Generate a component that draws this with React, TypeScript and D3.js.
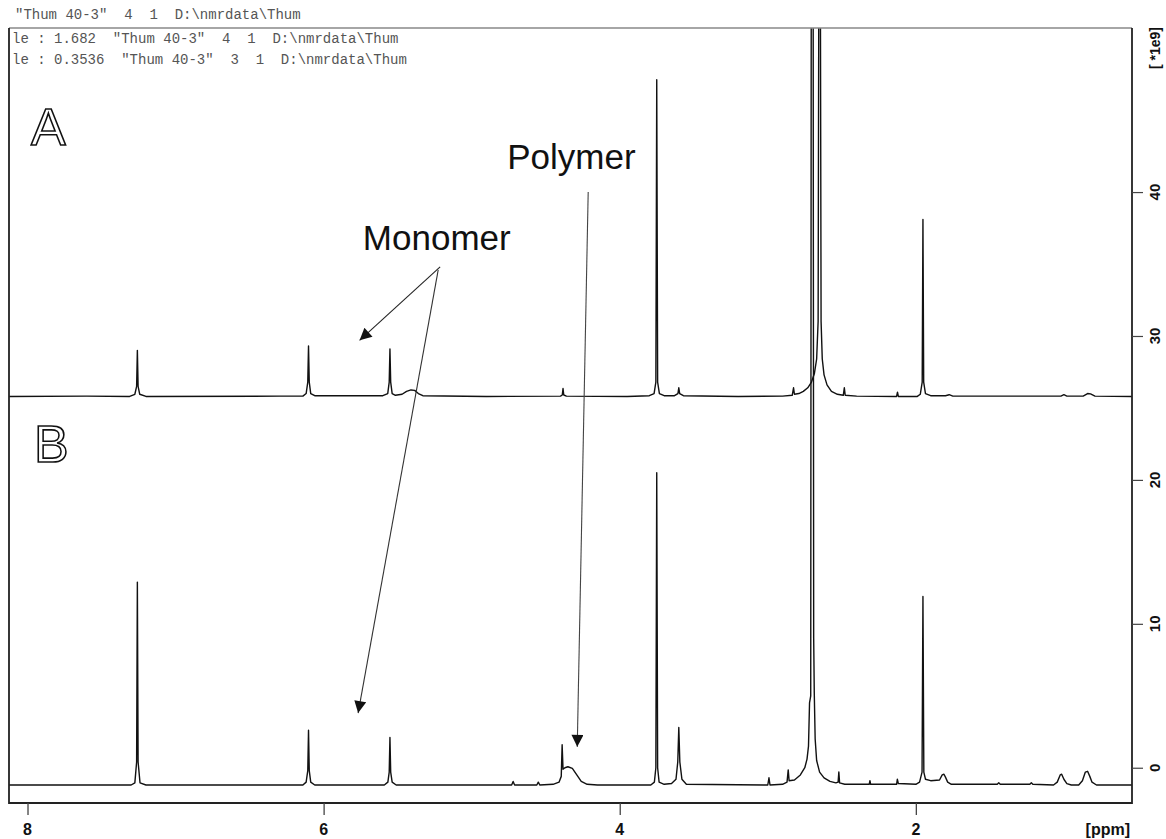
import React, { useRef, useEffect } from "react";
import * as d3 from "d3";

const W = 1166;
const H = 839;

// spectrum A (upper trace), [ppm, intensity in 1e9]
const specA: [number, number][] = [
  [8.13, 25.8], [7.6, 25.82], [7.31, 25.8], [7.275, 25.95], [7.263, 26.5],
  [7.258, 29.0], [7.253, 26.5], [7.242, 25.95], [7.2, 25.8], [6.3, 25.82],
  [6.14, 25.82], [6.118, 26.0], [6.107, 26.8], [6.102, 29.3], [6.097, 26.8],
  [6.087, 26.0], [6.06, 25.85], [5.6, 25.85], [5.567, 26.0], [5.557, 26.8],
  [5.552, 29.1], [5.547, 26.8], [5.537, 26.0], [5.515, 25.88], [5.47, 25.95],
  [5.44, 26.15], [5.41, 26.25], [5.385, 26.22], [5.36, 26.0], [5.33, 25.85],
  [4.9, 25.8], [4.4, 25.82], [4.388, 25.9], [4.383, 26.35], [4.378, 25.9],
  [4.36, 25.82], [3.95, 25.8], [3.8, 25.85], [3.768, 26.0], [3.756, 26.8],
  [3.75, 47.8], [3.744, 26.8], [3.732, 26.0], [3.7, 25.85], [3.63, 25.85],
  [3.607, 26.0], [3.601, 26.4], [3.595, 26.0], [3.57, 25.85], [3.2, 25.8],
  [2.9, 25.82], [2.835, 25.88], [2.826, 26.4], [2.82, 25.95], [2.79, 26.0],
  [2.76, 26.15], [2.73, 26.4], [2.705, 26.8], [2.685, 27.4], [2.67, 28.4],
  [2.66, 31.0], [2.655, 56], [2.645, 56], [2.64, 31.0], [2.632, 28.4],
  [2.62, 27.3], [2.6, 26.6], [2.57, 26.15], [2.53, 25.95], [2.49, 25.88],
  [2.483, 26.4], [2.477, 25.88], [2.4, 25.82], [2.13, 25.8], [2.124, 26.1],
  [2.118, 25.8], [1.99, 25.8], [1.97, 25.95], [1.957, 26.8], [1.952, 38.1],
  [1.947, 26.8], [1.935, 26.0], [1.9, 25.85], [1.8, 25.85], [1.775, 25.92],
  [1.75, 25.82], [1.02, 25.82], [1.0, 25.92], [0.98, 25.82], [0.87, 25.82],
  [0.84, 26.0], [0.82, 25.98], [0.79, 25.82], [0.54, 25.8],
];

// spectrum B (lower trace)
const specB: [number, number][] = [
  [8.13, -1.2], [7.3, -1.2], [7.275, -1.05], [7.263, 0.4], [7.258, 12.9],
  [7.253, 0.4], [7.24, -1.05], [7.2, -1.2], [6.14, -1.2], [6.118, -1.0],
  [6.107, -0.2], [6.102, 2.6], [6.097, -0.2], [6.087, -1.0], [6.06, -1.2],
  [5.59, -1.2], [5.566, -1.0], [5.557, -0.3], [5.552, 2.1], [5.547, -0.3],
  [5.537, -1.0], [5.51, -1.2], [4.73, -1.2], [4.72, -0.95], [4.71, -1.2],
  [4.56, -1.2], [4.55, -1.0], [4.54, -1.2], [4.45, -1.15], [4.41, -1.0],
  [4.395, -0.6], [4.389, 1.6], [4.383, -0.1], [4.37, 0.0], [4.35, 0.07],
  [4.32, -0.05], [4.29, -0.5], [4.26, -0.95], [4.22, -1.15], [4.15, -1.2],
  [3.79, -1.2], [3.766, -1.0], [3.756, 0.0], [3.75, 20.5], [3.744, 0.0],
  [3.734, -1.0], [3.7, -1.15], [3.65, -1.1], [3.62, -0.8], [3.608, 0.4],
  [3.601, 2.8], [3.594, 0.4], [3.58, -0.8], [3.55, -1.15], [3.0, -1.2],
  [2.992, -0.7], [2.985, -1.2], [2.9, -1.15], [2.87, -1.0], [2.862, -0.15],
  [2.856, -0.9], [2.82, -0.85], [2.78, -0.5], [2.75, 0.0], [2.735, 0.6],
  [2.725, 1.5], [2.718, 4.5], [2.71, 5.0], [2.706, 60], [2.694, 60],
  [2.69, 9.0], [2.686, 5.2], [2.68, 2.0], [2.67, 0.5], [2.65, -0.3],
  [2.62, -0.7], [2.58, -0.95], [2.54, -1.05], [2.525, -1.0], [2.52, -0.3],
  [2.515, -1.05], [2.48, -1.15], [2.315, -1.15], [2.31, -0.9], [2.305, -1.15],
  [2.13, -1.15], [2.125, -0.8], [2.118, -1.1], [2.0, -1.15], [1.975, -1.0],
  [1.958, -0.3], [1.952, 11.9], [1.946, -0.3], [1.935, -0.8], [1.9, -0.9],
  [1.84, -0.85], [1.822, -0.5], [1.81, -0.45], [1.8, -0.65], [1.785, -1.0],
  [1.76, -1.15], [1.45, -1.15], [1.44, -1.05], [1.43, -1.15], [1.23, -1.15],
  [1.22, -1.05], [1.21, -1.15], [1.07, -1.2], [1.045, -1.0], [1.025, -0.5],
  [1.015, -0.45], [1.0, -0.8], [0.98, -1.1], [0.95, -1.2], [0.9, -1.2],
  [0.875, -0.9], [0.855, -0.3], [0.84, -0.25], [0.825, -0.6], [0.81, -1.0],
  [0.78, -1.2], [0.54, -1.2],
];

const xMajor = [8, 6, 4, 2];
const xMinor = [7.5, 7, 6.5, 5.5, 5, 4.5, 3.5, 3, 2.5, 1.5, 1];
const yMajor = [0, 10, 20, 30, 40];
const yMinor = [-2, 2, 4, 6, 8, 12, 14, 16, 18, 22, 24, 26, 28, 32, 34, 36, 38, 42, 44, 46, 48, 50];

const titleLine = '"Thum 40-3"  4  1  D:\\nmrdata\\Thum';
const scaleLines = [
  'le : 1.682  "Thum 40-3"  4  1  D:\\nmrdata\\Thum',
  'le : 0.3536  "Thum 40-3"  3  1  D:\\nmrdata\\Thum',
];

// annotation arrows in data coords
const arrows = [
  { from: [5.213, 34.8], to: [5.757, 29.7], color: "#222" },
  { from: [5.226, 34.6], to: [5.767, 3.8], color: "#333" },
  { from: [4.213, 40.0], to: [4.287, 1.45], color: "#444" },
];
const notes = [
  { text: "Monomer", ppm: 5.735, val: 36.0 },
  { text: "Polymer", ppm: 4.76, val: 41.6 },
];

const App = () => {
  const ref = useRef<SVGSVGElement>(null);

  useEffect(() => {
    const svg = d3.select(ref.current);
    svg.selectAll("*").remove();

    const frame = { left: 9, right: 1132, top: 28, bottom: 803 };
    const x = d3.scaleLinear().domain([8.125, 0.54]).range([frame.left, frame.right]);
    const y = d3.scaleLinear().domain([-2.45, 51.4]).range([frame.bottom, frame.top]);

    svg.append("rect").attr("width", W).attr("height", H).attr("fill", "#fff");

    const defs = svg.append("defs");
    defs
      .append("clipPath")
      .attr("id", "plot-clip")
      .append("rect")
      .attr("x", frame.left)
      .attr("y", frame.top)
      .attr("width", frame.right - frame.left)
      .attr("height", frame.bottom - frame.top);
    defs
      .append("marker")
      .attr("id", "head")
      .attr("viewBox", "0 0 10 10")
      .attr("refX", 10)
      .attr("refY", 5)
      .attr("markerUnits", "userSpaceOnUse")
      .attr("markerWidth", 13)
      .attr("markerHeight", 12)
      .attr("orient", "auto")
      .append("path")
      .attr("d", "M0,0L10,5L0,10z")
      .attr("fill", "#111");

    // header text
    const mono = "'Liberation Mono', 'Courier New', monospace";
    svg
      .append("text")
      .attr("x", 15)
      .attr("y", 19)
      .style("white-space", "pre")
      .attr("font-family", mono)
      .attr("font-size", 14)
      .attr("fill", "#555")
      .text(titleLine);
    svg
      .append("g")
      .selectAll("text")
      .data(scaleLines)
      .enter()
      .append("text")
      .attr("x", 12)
      .attr("y", (d, i) => 43 + i * 21)
      .style("white-space", "pre")
      .attr("font-family", mono)
      .attr("font-size", 14)
      .attr("fill", "#555")
      .text((d) => d);

    // spectra
    const line = d3
      .line<[number, number]>()
      .x((d) => x(d[0]))
      .y((d) => y(d[1]));
    const plot = svg.append("g").attr("clip-path", "url(#plot-clip)");
    [specA, specB].forEach((s) => {
      plot
        .append("path")
        .datum(s)
        .attr("d", line)
        .attr("fill", "none")
        .attr("stroke", "#111")
        .attr("stroke-width", 1.4)
        .attr("stroke-linejoin", "round");
    });

    // frame
    const fr = svg.append("g");
    fr.append("line")
      .attr("x1", frame.left).attr("x2", frame.right)
      .attr("y1", frame.top).attr("y2", frame.top)
      .attr("stroke", "#888").attr("stroke-width", 1.5);
    fr.append("path")
      .attr(
        "d",
        `M${frame.left},${frame.top}V${frame.bottom}H${frame.right}V${frame.top}`
      )
      .attr("fill", "none")
      .attr("stroke", "#222")
      .attr("stroke-width", 1.8);

    // x axis
    const xg = svg.append("g").attr("transform", `translate(0,${frame.bottom})`);
    xg.call(d3.axisBottom(x).tickValues(xMinor).tickSize(8).tickFormat(() => ""));
    xg.call(d3.axisBottom(x).tickValues(xMajor).tickSize(12).tickFormat(() => ""));
    xg.selectAll(".domain").remove();
    xg.selectAll("line").attr("stroke", "#444").attr("stroke-width", 1.3);
    svg
      .append("g")
      .selectAll("text")
      .data(xMajor)
      .enter()
      .append("text")
      .attr("x", (d) => x(d))
      .attr("y", 835)
      .attr("text-anchor", "middle")
      .attr("font-family", "'Liberation Sans', Arial, sans-serif")
      .attr("font-weight", "bold")
      .attr("font-size", 16)
      .attr("fill", "#111")
      .text((d) => d);
    svg
      .append("text")
      .attr("x", 1130)
      .attr("y", 835)
      .attr("text-anchor", "end")
      .attr("font-family", "'Liberation Sans', Arial, sans-serif")
      .attr("font-weight", "bold")
      .attr("font-size", 16)
      .attr("fill", "#111")
      .text("[ppm]");

    // right y axis
    const yg = svg.append("g").attr("transform", `translate(${frame.right},0)`);
    yg.call(d3.axisRight(y).tickValues(yMinor).tickSize(7).tickFormat(() => ""));
    yg.call(d3.axisRight(y).tickValues(yMajor).tickSize(11).tickFormat(() => ""));
    yg.selectAll(".domain").remove();
    yg.selectAll("line").attr("stroke", "#444").attr("stroke-width", 1.2);
    svg
      .append("g")
      .selectAll("text")
      .data(yMajor)
      .enter()
      .append("text")
      .attr("transform", (d) => `translate(1160,${y(d)}) rotate(-90)`)
      .attr("text-anchor", "middle")
      .attr("font-family", "'Liberation Sans', Arial, sans-serif")
      .attr("font-weight", "bold")
      .attr("font-size", 15)
      .attr("fill", "#111")
      .text((d) => d);
    svg
      .append("text")
      .attr("transform", `translate(1160,48) rotate(-90)`)
      .attr("text-anchor", "middle")
      .style("white-space", "pre")
      .attr("font-family", "'Liberation Sans', Arial, sans-serif")
      .attr("font-weight", "bold")
      .attr("font-size", 14)
      .attr("fill", "#111")
      .text("[ *1e9]");

    // panel letters, outlined
    [
      ["A", 31, 145],
      ["B", 34, 462],
    ].forEach(([t, lx, ly]) => {
      svg
        .append("text")
        .attr("x", lx as number)
        .attr("y", ly as number)
        .attr("font-family", "'Liberation Sans', Arial, sans-serif")
        .attr("font-size", 52)
        .attr("fill", "#fff")
        .attr("stroke", "#111")
        .attr("stroke-width", 1.6)
        .text(t as string);
    });

    // annotations
    svg
      .append("g")
      .selectAll("line")
      .data(arrows)
      .enter()
      .append("line")
      .attr("x1", (d) => x(d.from[0]))
      .attr("y1", (d) => y(d.from[1]))
      .attr("x2", (d) => x(d.to[0]))
      .attr("y2", (d) => y(d.to[1]))
      .attr("stroke", (d) => d.color)
      .attr("stroke-width", 1.1)
      .attr("marker-end", "url(#head)");
    svg
      .append("g")
      .selectAll("text")
      .data(notes)
      .enter()
      .append("text")
      .attr("x", (d) => x(d.ppm))
      .attr("y", (d) => y(d.val))
      .attr("font-family", "'Liberation Sans', Arial, sans-serif")
      .attr("font-size", 35)
      .attr("fill", "#111")
      .text((d) => d.text);

    return () => {
      svg.selectAll("*").remove();
    };
  }, []);

  return (
    <svg
      ref={ref}
      width={W}
      height={H}
      style={{ position: "absolute", left: 0, top: 0, display: "block" }}
    />
  );
};

export default App;
